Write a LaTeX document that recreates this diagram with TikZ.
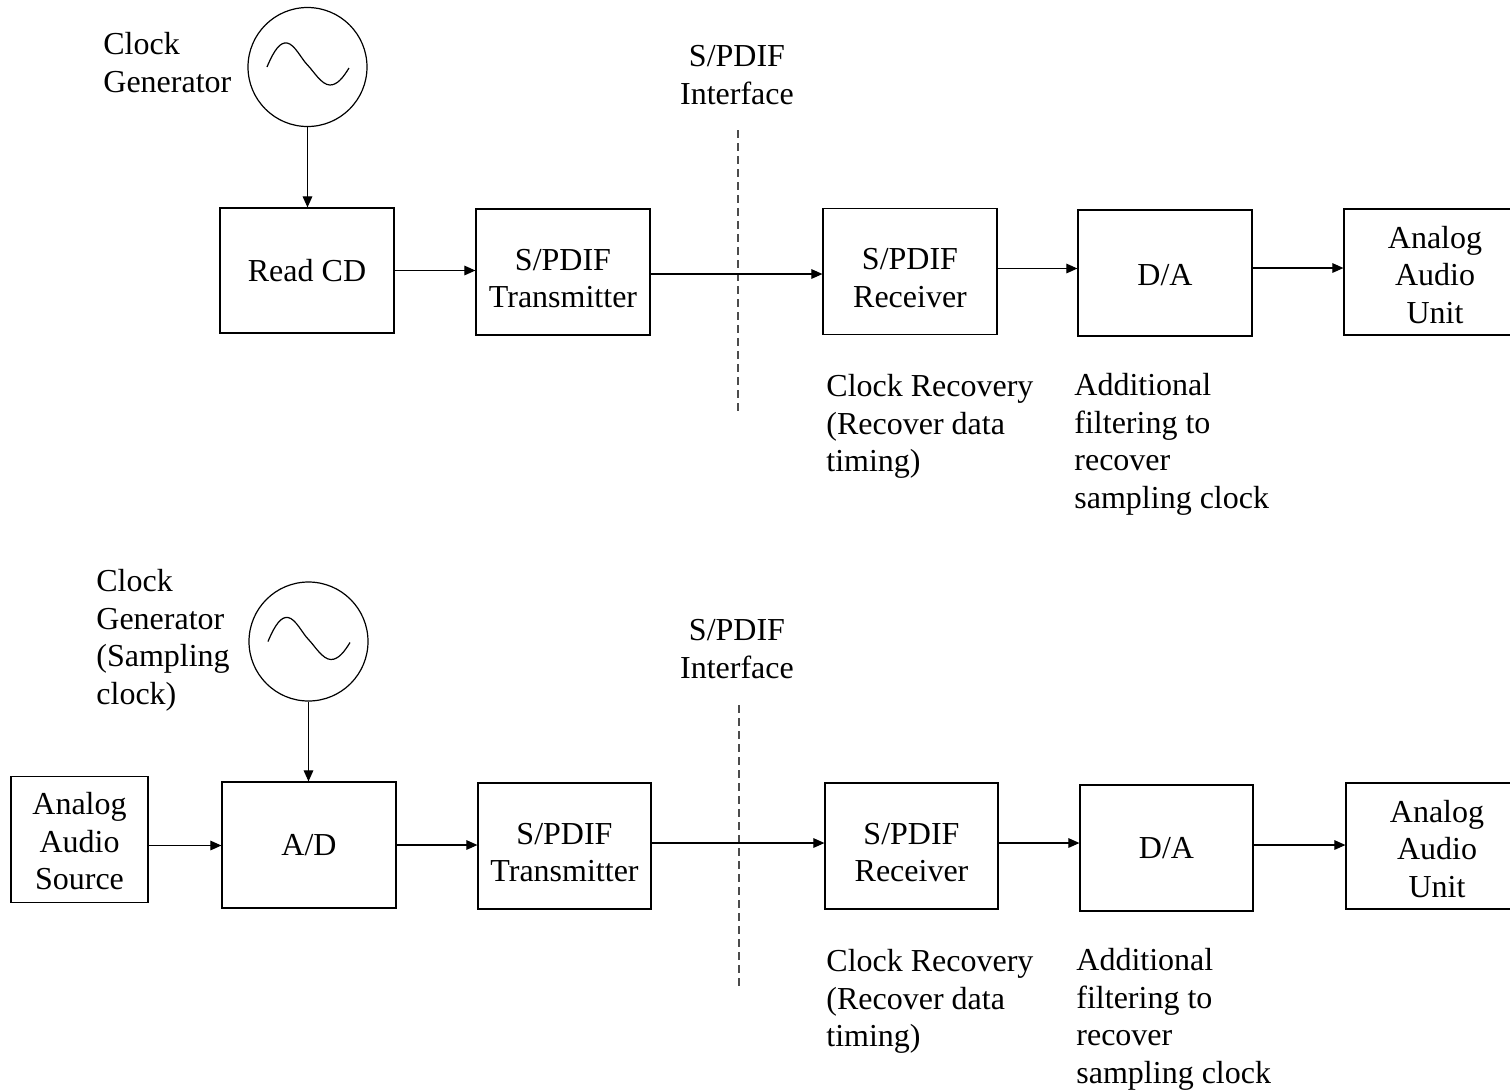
\documentclass[tikz,border=0pt]{standalone}
\usepackage{fontspec}
\setmainfont{Liberation Serif}
\usetikzlibrary{arrows.meta}
\newcommand\dropTwo{\rule{0pt}{17pt}}
\newcommand\dropThree{\rule{0pt}{14pt}}
\begin{document}
\begin{tikzpicture}[x=0.5pt,y=-0.5pt,
  font=\fontsize{16pt}{18.75pt}\selectfont,
  blk/.style={draw, line width=0.6pt, inner sep=0pt, align=center, minimum height=63pt},
  gen/.style={draw, line width=0.6pt, circle, inner sep=0pt, minimum size=59.5pt},
  lbl/.style={inner sep=0pt, align=left, anchor=north west},
  ctr/.style={inner sep=0pt, align=center, anchor=north},
  arr/.style={line width=0.55pt, -{Triangle[length=5.5pt,width=4.8pt]}},
  iface/.style={line width=0.6pt, black!70, dash pattern=on 4pt off 2.5pt},
  wave/.style={line width=0.6pt}]
\useasboundingbox (0,0) rectangle (1510,1089);

% ---------- top chain ----------
\node[gen] (c1) at (307.5,67) {};
\draw[wave,shift={(c1.center)}] (-40.5,0) .. controls (-33,-18) and (-27,-25) .. (-20.5,-24)
  .. controls (-13,-23) and (-6,-8) .. (0,-2)
  .. controls (6,4) and (14,18) .. (22.5,18)
  .. controls (30,18) and (36,10) .. (41.5,1);
\node[lbl] (g1) at (103,32) {Clock\\Generator};

\node[blk, minimum width=87pt, minimum height=62.5pt] (rcd) at (307,270.5) {Read CD};
\node[blk, minimum width=87pt] (tx1) at (563,272) {\dropTwo S/PDIF\\Transmitter};
\node[blk, minimum width=87pt] (rx1) at (910,271.5) {\dropTwo S/PDIF\\Receiver};
\node[blk, minimum width=87pt] (da1) at (1165,273) {\rule{0pt}{13pt}D/A};
\node[blk, minimum width=91pt] (au1) at (1435,272) {\dropThree Analog\\Audio\\Unit};

\node[ctr] (if1) at (737,45) {S/PDIF\\Interface};
\coordinate (d1a) at (738,130);
\coordinate (d1b) at (738,413);
\draw[iface] (d1a) -- (d1b);

\node[lbl] (cr1) at (826,374) {Clock Recovery\\(Recover data\\timing)};
\node[lbl] (af1) at (1074,373) {Additional\\filtering to\\recover\\sampling clock};

\draw[arr] (c1.south) -- (c1.south |- rcd.north);
\draw[arr] (rcd.east) -- (rcd.east -| tx1.west);
\draw[arr] ([yshift=-1pt]tx1.east) -- ([yshift=-1pt]tx1.east -| rx1.west);
\draw[arr] ([yshift=1.5pt]rx1.east) -- ([yshift=1.5pt]rx1.east -| da1.west);
\draw[arr] ([yshift=2.5pt]da1.east) -- ([yshift=2.5pt]da1.east -| au1.west);

% ---------- bottom chain ----------
\node[gen] (c2) at (308.5,641.5) {};
\draw[wave,shift={(c2.center)}] (-40.5,0) .. controls (-33,-18) and (-27,-25) .. (-20.5,-24)
  .. controls (-13,-23) and (-6,-8) .. (0,-2)
  .. controls (6,4) and (14,18) .. (22.5,18)
  .. controls (30,18) and (36,10) .. (41.5,1);
\node[lbl] (g2) at (96,569) {Clock\\Generator\\(Sampling\\clock)};

\node[blk, minimum width=68.5pt] (src) at (79.5,839.5) {\rule{0pt}{13pt}Analog\\Audio\\Source};
\node[blk, minimum width=87pt] (ad) at (309,845) {A/D};
\node[blk, minimum width=86.5pt] (tx2) at (564.5,846) {\dropTwo S/PDIF\\Transmitter};
\node[blk, minimum width=86.5pt] (rx2) at (911.5,846) {\dropTwo S/PDIF\\Receiver};
\node[blk, minimum width=86.5pt] (da2) at (1166.5,848) {D/A};
\node[blk, minimum width=91pt] (au2) at (1437,846) {\dropThree Analog\\Audio\\Unit};

\node[ctr] (if2) at (737,619) {S/PDIF\\Interface};
\coordinate (d2a) at (739,705);
\coordinate (d2b) at (739,990);
\draw[iface] (d2a) -- (d2b);

\node[lbl] (cr2) at (826,949) {Clock Recovery\\(Recover data\\timing)};
\node[lbl] (af2) at (1076,948) {Additional\\filtering to\\recover\\sampling clock};

\draw[arr] (c2.south) -- (c2.south |- ad.north);
\draw[arr] ([yshift=-3pt]src.east) -- ([yshift=-3pt]src.east -| ad.west);
\draw[arr] (ad.east) -- (ad.east -| tx2.west);
\draw[arr] ([yshift=1.5pt]tx2.east) -- ([yshift=1.5pt]tx2.east -| rx2.west);
\draw[arr] ([yshift=1.5pt]rx2.east) -- ([yshift=1.5pt]rx2.east -| da2.west);
\draw[arr] ([yshift=1.5pt]da2.east) -- ([yshift=1.5pt]da2.east -| au2.west);
\end{tikzpicture}
\end{document}
